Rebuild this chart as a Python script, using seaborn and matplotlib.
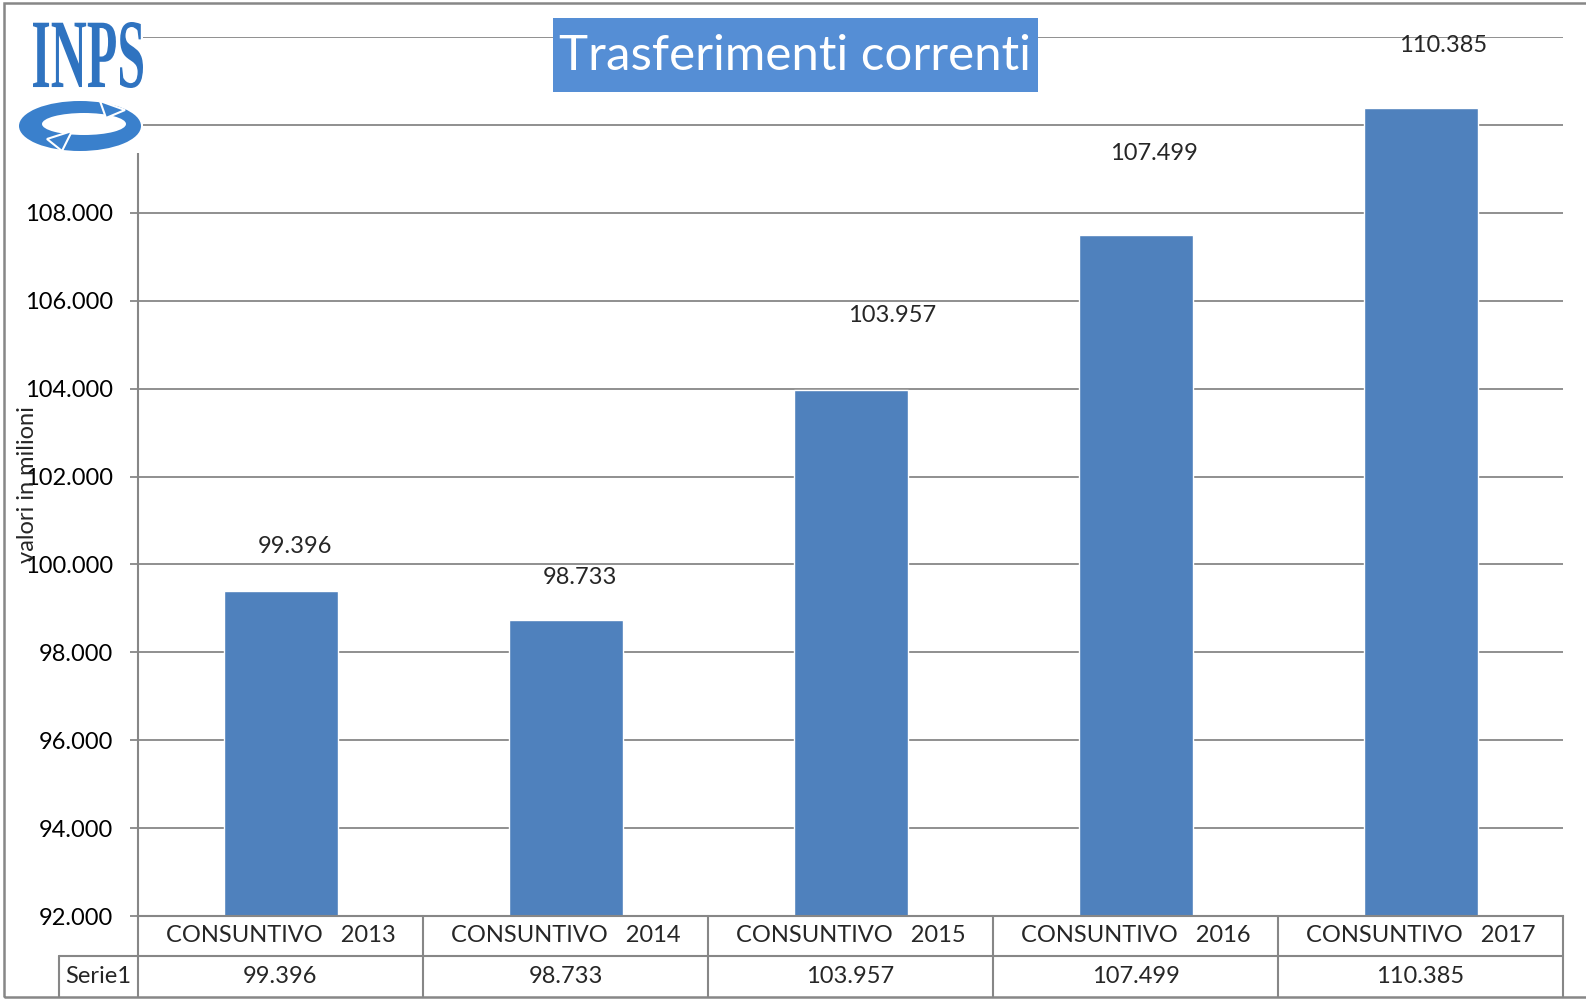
import matplotlib
matplotlib.use("Agg")
import matplotlib.pyplot as plt
import seaborn as sns
import pandas as pd
from matplotlib.patches import Rectangle, Ellipse, PathPatch, Polygon
from matplotlib.textpath import TextPath
from matplotlib.font_manager import FontProperties
from matplotlib.transforms import Affine2D, blended_transform_factory
from matplotlib.lines import Line2D

# dati
anni = ["2013", "2014", "2015", "2016", "2017"]
categorie = [f"CONSUNTIVO   {a}" for a in anni]
valori = [99396, 98733, 103957, 107499, 110385]
serie = "Serie1"
y_ticks = [92000, 94000, 96000, 98000, 100000, 102000, 104000, 106000, 108000, 110000, 112000]
titolo = "Trasferimenti correnti"
label_y = "valori in milioni"
# spostamento delle etichette sopra le barre (come nell'originale)
label_lift = [1020, 960, 1710, 1840, 1430]
label_shift = [0.05, 0.05, 0.145, 0.064, 0.078]

GRIGIO = "#878787"
BLU_BAR = "#4f81bd"
BLU_TIT = "#558ed5"
W, H = 1586, 1001
FS = 17


def fmt(v):
    return f"{v:,}".replace(",", ".")


def fx(px):
    return px / W


def fy(py):
    return 1 - py / H


sns.set_style("white")
plt.rcParams["font.family"] = ["Lato", "DejaVu Sans"]

df = pd.DataFrame({"categoria": categorie, "valore": valori})

fig = plt.figure(figsize=(W / 100, H / 100), dpi=100)
ax = fig.add_axes([fx(138), fy(916), (1563 - 138) / W, (916 - 37) / H])

sns.barplot(data=df, x="categoria", y="valore", color=BLU_BAR, width=0.4,
            saturation=1, ax=ax)
ax.set_xlim(-0.5, len(categorie) - 0.5)
ax.set_ylim(y_ticks[0], y_ticks[-1])
ax.set_yticks(y_ticks)
ax.set_yticklabels([fmt(t) for t in y_ticks])
ax.set_xticks([])
ax.set_xlabel("")
ax.set_ylabel("")
ax.yaxis.grid(True, color=GRIGIO, lw=1.3)
ax.set_axisbelow(True)
for s in ["top", "right"]:
    ax.spines[s].set_visible(False)
for s in ["left", "bottom"]:
    ax.spines[s].set_color(GRIGIO)
    ax.spines[s].set_linewidth(1.5)
ax.tick_params(axis="y", length=6, width=1.3, color=GRIGIO, pad=12,
               labelsize=FS, labelcolor="black", left=True)

# etichette valori
for i, (v, lift, sh) in enumerate(zip(valori, label_lift, label_shift)):
    ax.text(i + sh, v + lift, fmt(v), ha="center", va="center", fontsize=FS)

# tabella dati sotto il grafico
tr = blended_transform_factory(ax.transData, ax.transAxes)
h_ax = 916 - 37
r1 = -40 / h_ax
r2 = -81 / h_ax
x_serie = -0.5 - 79 / 285
n = len(categorie)
for k in range(n + 1):
    xk = k - 0.5
    ax.add_line(Line2D([xk, xk], [0, r2], transform=tr, color=GRIGIO,
                       lw=1.5, clip_on=False))
ax.add_line(Line2D([x_serie, n - 0.5], [r1, r1], transform=tr, color=GRIGIO,
                   lw=1.5, clip_on=False))
ax.add_line(Line2D([x_serie, x_serie], [r1, r2], transform=tr, color=GRIGIO,
                   lw=1.5, clip_on=False))
for i, (c, v) in enumerate(zip(categorie, valori)):
    ax.text(i, (0 + r1) / 2, c, transform=tr, ha="center", va="center",
            fontsize=FS)
    ax.text(i, (r1 + r2) / 2, fmt(v), transform=tr, ha="center", va="center",
            fontsize=FS)
ax.text((x_serie - 0.5) / 2, (r1 + r2) / 2, serie, transform=tr,
        ha="center", va="center", fontsize=FS)

# etichetta asse y
fig.text(fx(27), fy(485), label_y, rotation=90, ha="center", va="center",
         fontsize=FS)

# titolo in riquadro blu
fig.add_artist(Rectangle((fx(553), fy(92)), (1038 - 553) / W, (92 - 18) / H,
                         transform=fig.transFigure, facecolor=BLU_TIT,
                         edgecolor="none", zorder=5))
fig.text(fx(795), fy(56), titolo, ha="center", va="center", fontsize=35.5,
         color="white", zorder=6)

# logo INPS (approssimato)
fig.add_artist(Rectangle((fx(14), fy(153)), (143 - 14) / W, (153 - 18) / H,
                         transform=fig.transFigure, facecolor="white",
                         edgecolor="none", zorder=5))
tp = TextPath((0, 0), "INPS", size=1,
              prop=FontProperties(family="Liberation Serif", weight="bold"))
ext = tp.get_extents()
sx = (143 - 33) / W / ext.width
sy = (88 - 22) / H / ext.height
tfm = Affine2D().translate(-ext.x0, -ext.y0).scale(sx, sy).translate(fx(33), fy(88))
fig.add_artist(PathPatch(tfm.transform_path(tp), transform=fig.transFigure,
                         facecolor="#2f73c0", edgecolor="none", zorder=6))
LOGO = "#3a80cc"
fig.add_artist(Ellipse((fx(80), fy(126)), 122 / W, 50 / H,
                       transform=fig.transFigure, facecolor=LOGO,
                       edgecolor="none", zorder=6))
fig.add_artist(Ellipse((fx(84), fy(124)), 84 / W, 22 / H,
                       transform=fig.transFigure, facecolor="white",
                       edgecolor="none", zorder=7))
fig.add_artist(Polygon([(fx(100), fy(101)), (fx(125), fy(110)), (fx(106), fy(118))],
                       closed=True, transform=fig.transFigure, facecolor=LOGO,
                       edgecolor="white", lw=1.5, zorder=8))
fig.add_artist(Polygon([(fx(72), fy(131)), (fx(47), fy(139)), (fx(62), fy(151))],
                       closed=True, transform=fig.transFigure, facecolor=LOGO,
                       edgecolor="white", lw=1.5, zorder=8))

# cornice
fig.add_artist(Rectangle((fx(4), fy(997)), (W + 10) / W, (997 - 3) / H,
                         transform=fig.transFigure, facecolor="none",
                         edgecolor=GRIGIO, lw=1.8, zorder=9))

fig.savefig("out.png", dpi=100)
